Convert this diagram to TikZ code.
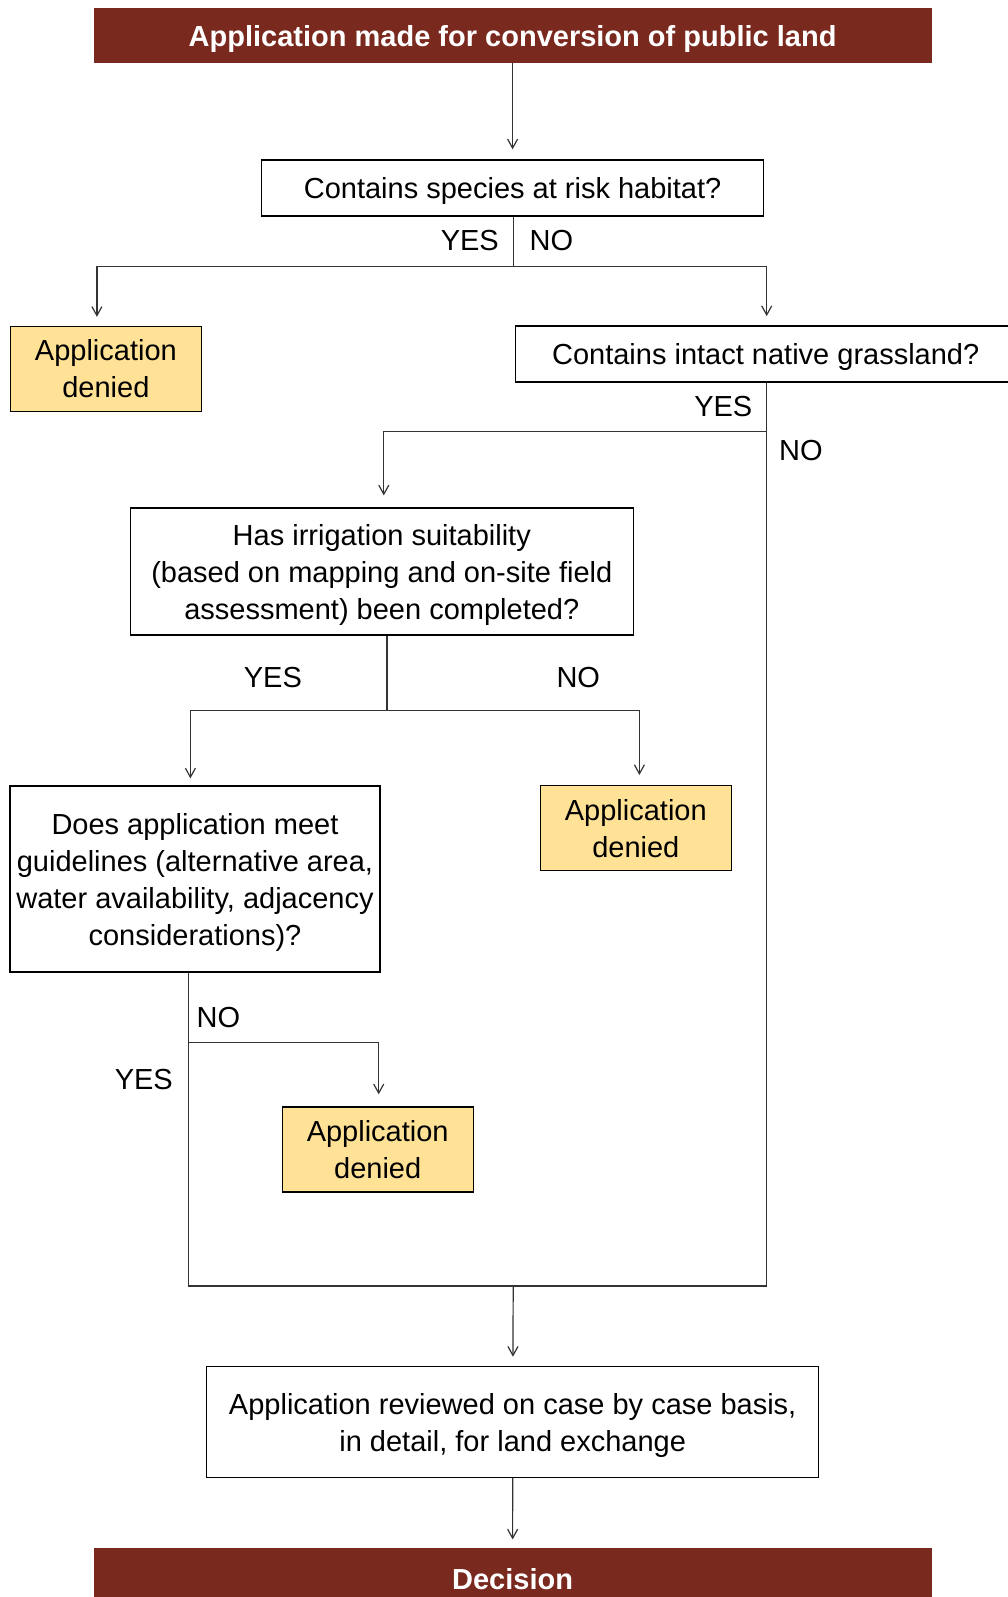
\documentclass[tikz,border=0pt]{standalone}
\usepackage{fontspec}
\setmainfont{Liberation Sans}
\usetikzlibrary{arrows.meta}
\definecolor{bannerred}{RGB}{122,41,30}
\definecolor{deniedgold}{RGB}{255,226,150}
\newcommand{\toppad}{\rule{0pt}{28pt}}
\begin{document}
\begin{tikzpicture}[x=1pt,y=-1pt,
    >={Straight Barb[length=9pt,width=10pt]},
    conn/.style={draw=black!80,line width=1.2pt},
    banner/.style={fill=bannerred,text=white,inner sep=0pt,
      font=\bfseries\fontsize{29}{37}\selectfont,minimum width=838pt,minimum height=55pt},
    box/.style={draw=black,line width=1.4pt,fill=white,align=center,inner sep=0pt,
      font=\fontsize{29}{37}\selectfont},
    denied/.style={box,fill=deniedgold,minimum width=191pt,minimum height=85pt},
    lbl/.style={inner sep=0pt,font=\fontsize{29}{37}\selectfont}]
  \useasboundingbox (0,0) rectangle (1008,1597);
  % boxes
  \node[banner] (start) at (512.6,35.6) {\toppad Application made for conversion of public land};
  \node[box,minimum width=502pt,minimum height=56pt] (habitat) at (512.6,188) {\toppad Contains species at risk habitat?};
  \node[denied] (deniedA) at (105.9,369) {Application\\denied};
  \node[box,minimum width=501pt,minimum height=56pt] (grass) at (765.7,353.8) {\toppad Contains intact native grassland?};
  \node[box,minimum width=503pt,minimum height=127pt] (irrig) at (381.8,571.6) {\toppad Has irrigation suitability\\(based on mapping and on-site field\\assessment) been completed?};
  \node[box,minimum width=370pt,minimum height=186pt] (guide) at (195,879.1) {\toppad Does application meet\\guidelines (alternative area,\\water availability, adjacency\\considerations)?};
  \node[denied] (deniedB) at (635.8,828.2) {Application\\denied};
  \node[denied] (deniedC) at (377.7,1149.5) {Application\\denied};
  \node[box,minimum width=612pt,minimum height=111pt] (review) at (512.7,1421.9) {\toppad Application reviewed on case by case basis,\\in detail, for land exchange};
  \node[banner,minimum height=56pt] (decision) at (512.6,1575.6) {\toppad Decision};
  % junctions
  \coordinate (j1) at (513.2,266.8);
  \coordinate (j2) at (766.7,431.7);
  \coordinate (j3) at (386.9,710.7);
  \coordinate (j4) at (188.4,1042.6);
  \coordinate (b1) at (188.4,1286);
  \coordinate (b2) at (766.7,1286);
  \coordinate (b3) at (513.2,1286);
  % connectors
  \draw[conn,->,shorten >=10pt] (start) -- (habitat);
  \draw[conn] (habitat.south -| j1) -- (j1);
  \draw[conn,->,shorten >=9pt] (j1) -| ([xshift=-9pt]deniedA.north);
  \draw[conn,->,shorten >=9pt] (j1) -| ([xshift=1pt]grass.north);
  \draw[conn] (grass.south -| b2) -- (b2);
  \draw[conn,->,shorten >=12pt] (j2) -| ([xshift=2pt]irrig.north);
  \draw[conn] (irrig.south -| j3) -- (j3);
  \draw[conn,->,shorten >=7pt] (j3) -| ([xshift=-4.6pt]guide.north);
  \draw[conn,->,shorten >=10pt] (j3) -| ([xshift=3.6pt]deniedB.north);
  \draw[conn] (guide.south -| b1) -- (b1) -- (b2);
  \draw[conn,->,shorten >=12pt] (j4) -| ([xshift=1pt]deniedC.north);
  \draw[conn,->,shorten >=9pt] (b3) -- (review);
  \draw[conn,->,shorten >=8pt] (review) -- (decision);
  % labels
  \node[lbl,anchor=east] (yesA) at (499,240.3) {YES};
  \node[lbl,anchor=west] (noA) at (529.5,240.3) {NO};
  \node[lbl,anchor=east] (yesB) at (752.5,407) {YES};
  \node[lbl,anchor=west] (noB) at (779,451) {NO};
  \node[lbl] (yesC) at (272.9,678) {YES};
  \node[lbl] (noC) at (578.3,678) {NO};
  \node[lbl,anchor=west] (noD) at (196.5,1017.2) {NO};
  \node[lbl,anchor=east] (yesD) at (173,1079.3) {YES};
\end{tikzpicture}
\end{document}
